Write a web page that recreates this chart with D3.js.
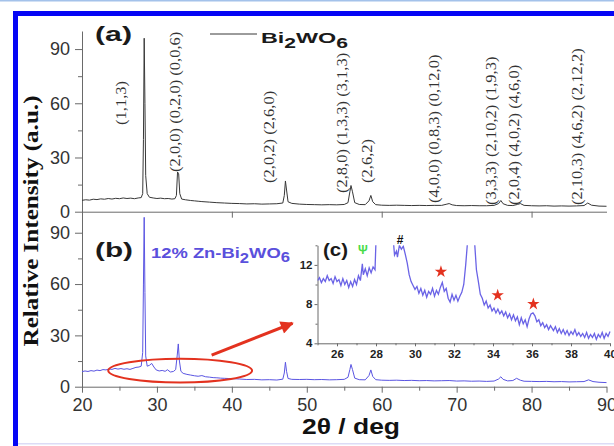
<!DOCTYPE html>
<html>
<head>
<meta charset="utf-8">
<script src="https://cdn.jsdelivr.net/npm/d3@7"></script>
<style>
  body { margin: 0; background: #fff; }
  svg { display: block; font-family: Arial, "Liberation Sans", sans-serif; }
</style>
</head>
<body>
<div id="chart"></div>
<script>
// ---- data: [2theta (deg), relative intensity] ----
const pureXRD = [
  [20,6.3],[20.5,6.6],[21,6.4],[21.5,6.9],[22,6.7],[22.5,7.1],[23,6.9],[23.5,7.3],[24,7.0],[24.5,7.4],
  [25,7.2],[25.5,7.6],[26,7.3],[26.5,7.5],[27,7.2],[27.5,7.6],[27.9,7.8],[28.1,10],[28.2,40],[28.3,96],
  [28.4,60],[28.5,20],[28.7,10],[29,8],[29.5,7.6],[30,7.3],[30.5,7.5],[31,7.2],[31.5,7.3],[32,7.0],
  [32.4,7.2],[32.6,9],[32.75,22],[32.9,21],[33.05,10],[33.3,7],[33.8,6.6],[34.5,6.2],[35,6.0],[35.5,5.8],
  [36,5.6],[37,5.3],[38,5.0],[39,4.8],[40,4.6],[41,4.5],[42,4.3],[43,4.4],[44,4.2],[45,4.3],
  [46,4.4],[46.8,4.8],[47.0,9],[47.15,17],[47.3,12],[47.5,5.5],[48,4.6],[49,4.2],[50,4.0],[51,3.9],
  [52,3.8],[53,3.9],[54,3.8],[55,4.0],[55.5,5],[55.75,11],[55.9,14.5],[56.1,11],[56.4,5],[57,4],
  [57.8,3.9],[58.3,6],[58.55,9],[58.8,5.5],[59.2,3.9],[60,3.6],[61,3.5],[62,3.6],[63,3.5],[64,3.4],
  [65,3.5],[66,3.4],[67,3.5],[68,3.5],[68.7,4.2],[69,4.5],[69.4,3.8],[70,3.4],[71,3.3],[72,3.4],
  [73,3.3],[74,3.3],[75,3.5],[75.6,4.5],[75.9,6.2],[76.2,4.4],[76.8,3.5],[77.5,3.4],[78.1,4.0],[78.5,4.5],
  [79,3.5],[80,3.3],[81,3.2],[82,3.3],[83,3.1],[84,3.2],[85,3.1],[86,3.2],[87,3.4],[87.5,4.8],
  [88,3.6],[89,3.1],[90,3.0]
];

const znXRD = [
  [20,8.8],[20.4,9.2],[20.8,8.9],[21.2,9.4],[21.6,9.1],[22,9.7],[22.4,9.4],[22.8,10],[23.2,9.8],[23.6,10.4],
  [24,10.1],[24.4,10.7],[24.8,10.3],[25.2,10.6],[25.6,10.2],[26,10.5],[26.4,10.1],[26.8,10.7],[27.2,11.3],[27.6,11.5],
  [27.9,12],[28.1,20],[28.2,60],[28.3,99],[28.4,55],[28.5,18],[28.7,12],[29.0,12.5],[29.3,13.6],[29.6,11.5],
  [29.9,9.8],[30.3,9.2],[30.7,9.5],[31.1,9.0],[31.4,9.9],[31.8,8.6],[32.2,8.9],[32.5,10],[32.7,18],[32.85,25],
  [33.0,15],[33.2,9],[33.5,7.8],[34,7.2],[34.5,6.8],[35,6.4],[35.5,6.1],[36,6.5],[36.5,5.8],[37,5.6],
  [37.5,5.3],[38,5.2],[38.5,5.0],[39,4.9],[39.5,4.8],[40,4.7],[41,4.5],[42,4.2],[43,4.3],[44,4.0],
  [45,4.1],[46,3.9],[46.8,4.4],[47.0,8],[47.15,14.3],[47.3,9],[47.5,4.8],[48,4.3],[49,4.2],[50,4.3],
  [51,4.1],[52,4.2],[53,4.0],[54,4.1],[55,4.3],[55.5,5.5],[55.75,10],[55.9,13],[56.1,10],[56.4,5],
  [57,4.1],[57.8,4.0],[58.3,6.5],[58.55,9.8],[58.8,6],[59.2,4.1],[60,3.8],[61,3.7],[62,3.8],[63,3.6],
  [64,3.7],[65,3.5],[66,3.6],[67,3.4],[68,3.5],[69,3.6],[70,3.3],[71,3.4],[72,3.2],[73,3.3],
  [74,3.1],[75,3.3],[75.6,4.5],[75.9,5.8],[76.2,4.3],[76.8,3.4],[77.5,3.6],[78.0,4.9],[78.5,3.8],[79,3.2],
  [80,3.1],[81,3.0],[82,3.1],[83,2.9],[84,3.0],[85,2.8],[86,2.9],[87,3.0],[87.6,4.0],[88.2,3.0],
  [89,2.6],[90,2.4]
];

// zoomed region 25-40 deg of the Zn-doped pattern (inset c)
const insetXRD = [
  [25.0,10.4],[25.1,10.7],[25.2,10.2],[25.3,10.6],[25.4,10.3],[25.5,10.9],[25.6,10.4],[25.7,10.6],[25.8,10.1],[25.9,10.8],
  [26.0,10.3],[26.1,10.5],[26.2,9.9],[26.3,10.6],[26.4,10.0],[26.5,10.4],[26.6,9.7],[26.7,10.3],[26.8,9.8],[26.9,10.5],
  [27.0,10.0],[27.1,10.9],[27.2,10.4],[27.3,12.1],[27.35,11.0],[27.45,11.6],[27.55,10.9],[27.65,11.7],[27.75,11.2],[27.85,11.8],
  [27.95,11.5],[28.0,14.5],[28.05,20],[28.3,99],[28.6,20],[28.9,14.2],[28.95,13.0],[29.05,13.4],[29.1,12.8],[29.2,14.0],
  [29.3,13.6],[29.4,13.9],[29.5,13.1],[29.6,12.2],[29.7,11.0],[29.8,10.3],[29.9,9.9],[30.0,9.5],[30.1,9.8],[30.2,9.1],
  [30.3,9.6],[30.4,8.9],[30.5,9.4],[30.6,8.7],[30.7,9.3],[30.8,9.0],[30.9,9.6],[31.0,8.8],[31.1,9.4],[31.2,9.0],
  [31.3,9.7],[31.4,10.2],[31.5,9.3],[31.6,9.6],[31.7,8.6],[31.8,8.2],[31.9,9.0],[32.0,8.4],[32.1,8.9],[32.2,8.3],
  [32.3,8.8],[32.4,9.2],[32.5,10.0],[32.6,12.0],[32.7,14.5],[32.85,25],[33.05,14.5],[33.15,11.5],[33.25,10.3],[33.35,9.0],
  [33.45,8.6],[33.55,7.9],[33.65,8.3],[33.75,7.6],[33.85,7.9],[33.95,7.3],[34.05,7.6],[34.15,7.1],[34.25,7.5],[34.35,7.0],
  [34.45,7.3],[34.55,6.8],[34.65,7.2],[34.75,6.6],[34.85,7.0],[34.95,6.4],[35.05,6.9],[35.15,6.3],[35.25,6.7],[35.35,5.9],
  [35.45,6.6],[35.55,6.0],[35.65,6.4],[35.75,5.7],[35.85,6.5],[35.95,7.0],[36.05,7.1],[36.15,6.8],[36.25,6.2],[36.35,6.4],
  [36.45,5.8],[36.55,6.1],[36.65,5.6],[36.75,5.9],[36.85,5.4],[36.95,5.8],[37.1,5.3],[37.2,5.7],[37.3,5.1],[37.4,5.5],
  [37.5,5.0],[37.6,5.4],[37.7,4.9],[37.8,5.3],[37.9,4.8],[38.0,5.2],[38.1,4.9],[38.2,5.4],[38.3,4.8],[38.4,5.1],
  [38.5,4.7],[38.6,5.0],[38.7,4.6],[38.8,5.1],[38.9,4.5],[39.0,4.9],[39.1,4.6],[39.2,5.0],[39.3,4.4],[39.4,4.9],
  [39.5,4.6],[39.6,5.1],[39.7,4.5],[39.8,5.0],[39.9,4.7],[40.0,5.2]
];

// Miller index labels in panel (a): position (deg), foot (intensity), text
const hklPos  = [25.3, 32.55, 45.1, 54.8, 58.2, 67.1, 74.7, 77.8, 86.2];
const hklFoot = [48, 22, 15.9, 10.3, 15.9, 4.8, 3.7, 3.7, 3.7];
const hklText = ["(1,1,3)", "(2,0,0) (0,2,0) (0,0,6)", "(2,0,2) (2,6,0)", "(2,8,0) (1,3,3) (3,1,3)",
                 "(2,6,2)", "(4,0,0) (0,8,3) (0,12,0)", "(3,3,3) (2,10,2) (1,9,3)",
                 "(2,0,4) (4,0,2) (4,6,0)", "(2,10,3) (4,6,2) (2,12,2)"];

// inset markers
const markX   = [27.33, 29.23, 31.33, 34.24, 36.07];
const markY   = [13.5, 14.5, 11.3, 8.9, 8.0];
const markSym = ["Ψ", "#", "*", "*", "*"];

const xTicks = [20, 30, 40, 50, 60, 70, 80, 90];
const yTicks = [0, 30, 60, 90];
const insetXTicks = [26, 28, 30, 32, 34, 36, 38, 40];
const insetYTicks = [4, 8, 12];

// ---- drawing ----
const W = 614, H = 446;
const serif = "'Liberation Serif', 'Times New Roman', serif";
const svg = d3.select("#chart").append("svg").attr("width", W).attr("height", H);

// page frame
svg.append("rect").attr("x", 0).attr("y", 0).attr("width", W).attr("height", 1.5).attr("fill", "#a4c2ea");
svg.append("rect").attr("x", 13).attr("y", 11).attr("width", W - 13).attr("height", 5).attr("fill", "#0505f5");
svg.append("rect").attr("x", 13).attr("y", 11).attr("width", 5).attr("height", H - 11).attr("fill", "#0505f5");
svg.append("rect").attr("x", 18).attr("y", 443).attr("width", W - 18).attr("height", 1.5).attr("fill", "#dcdcf6");

const x  = d3.scaleLinear().domain([20, 90]).range([82, 606.5]);
const yA = d3.scaleLinear().domain([0, 100]).range([211.7, 31]);
const yB = d3.scaleLinear().domain([0, 102]).range([386.7, 212.2]);
const xi = d3.scaleLinear().domain([25, 40]).range([317.5, 610]);
const yi = d3.scaleLinear().domain([4, 14]).range([343.3, 245.3]);

const axisColor = "#6a6a6a";
function styleAxis(g, size, weight, color) {
  g.attr("font-family", null).attr("font-size", null);
  g.select(".domain").attr("stroke", axisColor).attr("stroke-width", 1);
  g.selectAll(".tick line").attr("stroke", axisColor);
  g.selectAll("text").style("font-size", size + "px").style("font-weight", weight)
    .attr("fill", color);
}

// panel (a) axes
svg.append("g").attr("transform", "translate(82,0)")
  .call(d3.axisLeft(yA).tickValues(yTicks).tickSize(7).tickPadding(5).tickSizeOuter(0))
  .call(styleAxis, 18, "normal", "#333");
svg.append("g").attr("transform", "translate(82,0)")
  .call(d3.axisLeft(yA).tickValues([15, 45, 75]).tickSize(4).tickFormat("").tickSizeOuter(0))
  .call(g => g.select(".domain").remove()).call(styleAxis, 10, "normal", "#333");
svg.append("g").attr("transform", `translate(0,${yA(0)})`)
  .call(d3.axisBottom(x).tickValues([20, 40, 60, 80]).tickSize(6).tickFormat("").tickSizeOuter(0))
  .call(styleAxis, 10, "normal", "#333");

// panel (b) axes
svg.append("g").attr("transform", "translate(82,0)")
  .call(d3.axisLeft(yB).tickValues(yTicks).tickSize(7).tickPadding(5).tickSizeOuter(0))
  .call(styleAxis, 18, "normal", "#333");
svg.append("g").attr("transform", "translate(82,0)")
  .call(d3.axisLeft(yB).tickValues([15, 45, 75]).tickSize(4).tickFormat("").tickSizeOuter(0))
  .call(g => g.select(".domain").remove()).call(styleAxis, 10, "normal", "#333");
svg.append("g").attr("transform", `translate(0,${yB(0)})`)
  .call(d3.axisBottom(x).tickValues(xTicks).tickSize(6).tickPadding(6).tickSizeOuter(0))
  .call(styleAxis, 18, "normal", "#333");
svg.append("g").attr("transform", `translate(0,${yB(0)})`)
  .call(d3.axisBottom(x).tickValues([25, 35, 45, 55, 65, 75, 85]).tickSize(4).tickFormat("").tickSizeOuter(0))
  .call(g => g.select(".domain").remove()).call(styleAxis, 10, "normal", "#333");

// traces
svg.append("path").datum(pureXRD)
  .attr("d", d3.line().x(d => x(d[0])).y(d => yA(d[1])))
  .attr("fill", "none").attr("stroke", "#383838").attr("stroke-width", 1);
svg.append("path").datum(znXRD)
  .attr("d", d3.line().x(d => x(d[0])).y(d => yB(d[1])))
  .attr("fill", "none").attr("stroke", "#5a55e2").attr("stroke-width", 1);

// Miller index labels
svg.append("g").selectAll("text").data(hklText).join("text")
  .attr("transform", (d, i) => `translate(${x(hklPos[i]) + 4},${yA(hklFoot[i])}) rotate(-90) scale(1.18,1)`)
  .style("font-family", serif)
  .style("font-size", "14px").attr("fill", "#333")
  .text(d => d);

// y title
svg.append("text")
  .attr("transform", "translate(38,221) rotate(-90)")
  .attr("text-anchor", "middle")
  .style("font-family", serif)
  .style("font-weight", "bold").style("font-size", "22px").attr("fill", "#111")
  .attr("textLength", 251).attr("lengthAdjust", "spacingAndGlyphs")
  .text("Relative Intensity (a.u.)");

// x title
svg.append("text").attr("x", 302).attr("y", 434)
  .style("font-weight", "bold").style("font-size", "22px").attr("fill", "#111")
  .attr("textLength", 98).attr("lengthAdjust", "spacingAndGlyphs")
  .text("2θ / deg");

// panel letters
svg.append("text").attr("x", 95).attr("y", 41)
  .style("font-weight", "bold").style("font-size", "20px").attr("fill", "#1a1a1a")
  .attr("textLength", 37).attr("lengthAdjust", "spacingAndGlyphs").text("(a)");
svg.append("text").attr("x", 95).attr("y", 257)
  .style("font-weight", "bold").style("font-size", "20px").attr("fill", "#1a1a1a")
  .attr("textLength", 38).attr("lengthAdjust", "spacingAndGlyphs").text("(b)");

// legend (a)
svg.append("line").attr("x1", 210).attr("x2", 257).attr("y1", 34).attr("y2", 34)
  .attr("stroke", "#383838").attr("stroke-width", 1);
const legA = svg.append("text").attr("x", 261).attr("y", 43)
  .style("font-weight", "bold").style("font-size", "15.5px").attr("fill", "#1a1a1a")
  .attr("textLength", 87).attr("lengthAdjust", "spacingAndGlyphs");
legA.append("tspan").text("Bi");
legA.append("tspan").attr("dy", 5).style("font-size", "14px").text("2");
legA.append("tspan").attr("dy", -5).text("WO");
legA.append("tspan").attr("dy", 5).style("font-size", "14px").text("6");

// legend (b)
const legB = svg.append("text").attr("x", 151).attr("y", 258)
  .style("font-weight", "bold").style("font-size", "15.5px").attr("fill", "#5a50dc")
  .attr("textLength", 139).attr("lengthAdjust", "spacingAndGlyphs");
legB.append("tspan").text("12% Zn-Bi");
legB.append("tspan").attr("dy", 5).style("font-size", "14px").text("2");
legB.append("tspan").attr("dy", -5).text("WO");
legB.append("tspan").attr("dy", 4).style("font-size", "14px").text("6");

// red ellipse and arrow
const red = "#e3321f";
svg.append("ellipse")
  .attr("cx", x(33.1)).attr("cy", yB(9.4))
  .attr("rx", x(33.1) - x(23.5)).attr("ry", yB(2.4) - yB(9.4))
  .attr("fill", "none").attr("stroke", red).attr("stroke-width", 2);
svg.append("defs").append("marker").attr("id", "ah")
  .attr("viewBox", "0 0 10 10").attr("refX", 9).attr("refY", 5)
  .attr("markerWidth", 16).attr("markerHeight", 13).attr("markerUnits", "userSpaceOnUse")
  .attr("orient", "auto")
  .append("path").attr("d", "M0,0L10,5L0,10z").attr("fill", red);
svg.append("line")
  .attr("x1", x(37.3)).attr("y1", yB(18.5)).attr("x2", x(48.1)).attr("y2", yB(37.1))
  .attr("stroke", red).attr("stroke-width", 3).attr("marker-end", "url(#ah)");

// ---- inset (c) ----
svg.append("clipPath").attr("id", "insetClip").append("rect")
  .attr("x", xi(25)).attr("y", yi(14)).attr("width", xi(40) - xi(25) + 4).attr("height", yi(4) - yi(14));

svg.append("g").attr("transform", `translate(${xi(25)},0)`)
  .call(d3.axisLeft(yi).tickValues(insetYTicks).tickSize(3).tickPadding(2).tickSizeOuter(0))
  .call(styleAxis, 11.5, "bold", "#222");
svg.append("g").attr("transform", `translate(${xi(25)},0)`)
  .call(d3.axisLeft(yi).tickValues([6, 10, 14]).tickSize(2).tickFormat("").tickSizeOuter(0))
  .call(g => g.select(".domain").remove()).call(styleAxis, 10, "normal", "#222");
svg.append("g").attr("transform", `translate(0,${yi(4)})`)
  .call(d3.axisBottom(xi).tickValues(insetXTicks).tickSize(3).tickPadding(3.5).tickSizeOuter(0))
  .call(styleAxis, 11.5, "bold", "#222");
svg.append("g").attr("transform", `translate(0,${yi(4)})`)
  .call(d3.axisBottom(xi).tickValues([25, 27, 29, 31, 33, 35, 37, 39]).tickSize(2).tickFormat("").tickSizeOuter(0))
  .call(g => g.select(".domain").remove()).call(styleAxis, 10, "normal", "#222");

svg.append("path").datum(insetXRD)
  .attr("clip-path", "url(#insetClip)")
  .attr("d", d3.line().x(d => xi(d[0])).y(d => yi(d[1])))
  .attr("fill", "none").attr("stroke", "#6a63e6").attr("stroke-width", 1.3);

svg.append("text").attr("x", 323).attr("y", 256)
  .style("font-weight", "bold").style("font-size", "18px").attr("fill", "#1a1a1a")
  .attr("textLength", 25).attr("lengthAdjust", "spacingAndGlyphs").text("(c)");

const marks = svg.append("g");
markSym.forEach((s, i) => {
  const px = xi(markX[i]), py = yi(markY[i]);
  if (s === "*") {
    marks.append("path").attr("transform", `translate(${px},${py})`)
      .attr("d", d3.symbol(d3.symbolStar, 48)()).attr("fill", red);
  } else {
    marks.append("text").attr("x", px).attr("y", py + 4)
      .attr("text-anchor", "middle").style("font-weight", "bold")
      .style("font-size", "12px")
      .attr("fill", s === "Ψ" ? "#48dc48" : "#111")
      .text(s);
  }
});
</script>
</body>
</html>
